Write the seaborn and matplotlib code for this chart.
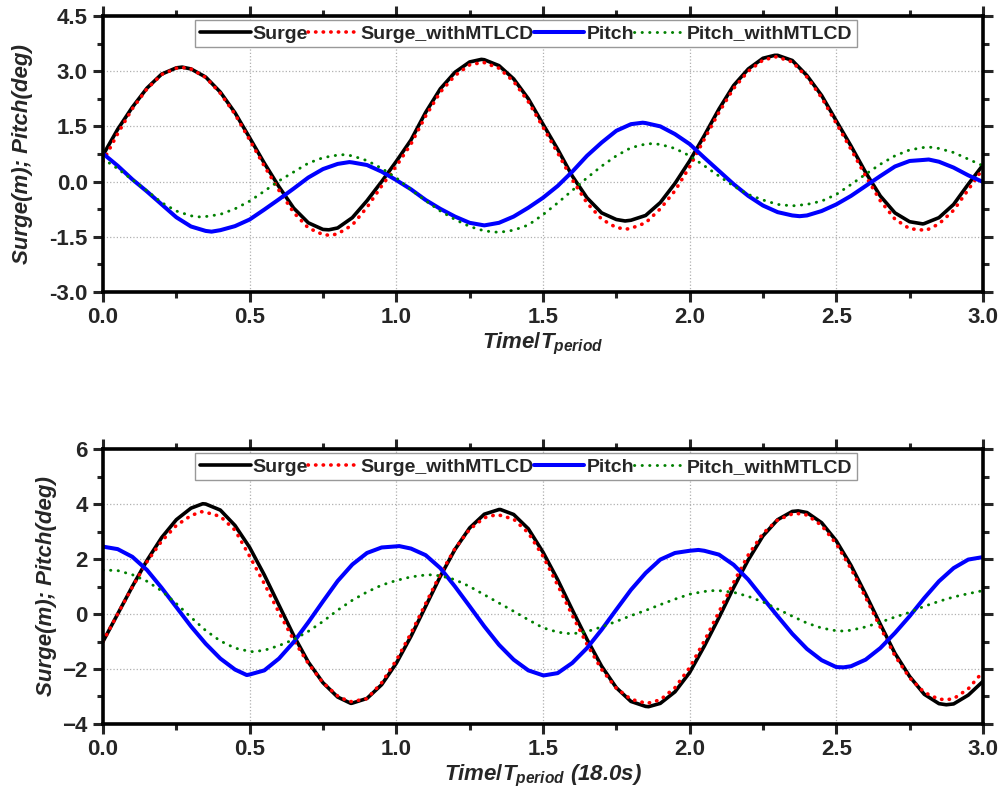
import matplotlib
matplotlib.use("Agg")
import matplotlib.pyplot as plt
import seaborn as sns
from matplotlib.ticker import MultipleLocator, FormatStrFormatter

# time axis, in units of the period
time = [0.00, 0.05, 0.10, 0.15, 0.20, 0.25, 0.30, 0.35, 0.40, 0.45,
        0.50, 0.55, 0.60, 0.65, 0.70, 0.75, 0.80, 0.85, 0.90, 0.95,
        1.00, 1.05, 1.10, 1.15, 1.20, 1.25, 1.30, 1.35, 1.40, 1.45,
        1.50, 1.55, 1.60, 1.65, 1.70, 1.75, 1.80, 1.85, 1.90, 1.95,
        2.00, 2.05, 2.10, 2.15, 2.20, 2.25, 2.30, 2.35, 2.40, 2.45,
        2.50, 2.55, 2.60, 2.65, 2.70, 2.75, 2.80, 2.85, 2.90, 2.95,
        3.00]

# upper panel
surge_a = [0.72, 1.42, 2.02, 2.54, 2.92, 3.09, 3.06, 2.84, 2.43, 1.87,
           1.19, 0.50, -0.14, -0.72, -1.12, -1.30, -1.26, -0.98, -0.52, 0.00,
           0.55, 1.13, 1.88, 2.52, 2.97, 3.25, 3.31, 3.15, 2.79, 2.25,
           1.56, 0.88, 0.15, -0.44, -0.85, -1.03, -1.05, -0.92, -0.57, -0.05,
           0.56, 1.25, 1.97, 2.61, 3.06, 3.35, 3.43, 3.29, 2.88, 2.34,
           1.65, 0.97, 0.25, -0.39, -0.85, -1.09, -1.14, -0.98, -0.62, -0.07,
           0.45]
surge_mtlcd_a = [0.55, 1.30, 1.98, 2.52, 2.91, 3.08, 3.06, 2.83, 2.40, 1.83,
                 1.13, 0.42, -0.24, -0.84, -1.26, -1.44, -1.42, -1.18, -0.70, -0.12,
                 0.42, 1.02, 1.78, 2.43, 2.88, 3.17, 3.23, 3.08, 2.72, 2.17,
                 1.48, 0.78, 0.05, -0.58, -1.02, -1.25, -1.27, -1.12, -0.74, -0.25,
                 0.40, 1.15, 1.88, 2.53, 3.00, 3.30, 3.38, 3.25, 2.84, 2.28,
                 1.58, 0.88, 0.15, -0.52, -1.02, -1.28, -1.32, -1.15, -0.78, -0.22,
                 0.35]
pitch_a = [0.76, 0.43, 0.06, -0.27, -0.62, -0.97, -1.22, -1.34, -1.32, -1.21,
           -1.03, -0.76, -0.48, -0.19, 0.11, 0.34, 0.48, 0.52, 0.45, 0.27,
           0.04, -0.21, -0.50, -0.74, -0.95, -1.12, -1.19, -1.12, -0.95, -0.71,
           -0.44, -0.12, 0.27, 0.70, 1.06, 1.38, 1.56, 1.59, 1.50, 1.29,
           1.02, 0.65, 0.29, -0.07, -0.39, -0.65, -0.83, -0.92, -0.92, -0.80,
           -0.62, -0.39, -0.12, 0.15, 0.41, 0.56, 0.59, 0.54, 0.38, 0.17,
           -0.01]
pitch_mtlcd_a = [0.62, 0.35, 0.05, -0.25, -0.57, -0.80, -0.93, -0.95, -0.89, -0.74,
                 -0.53, -0.26, 0.02, 0.26, 0.50, 0.65, 0.72, 0.70, 0.57, 0.36,
                 0.10, -0.22, -0.52, -0.80, -1.03, -1.22, -1.34, -1.38, -1.32, -1.18,
                 -0.90, -0.58, -0.24, 0.10, 0.42, 0.70, 0.92, 1.02, 1.01, 0.90,
                 0.70, 0.43, 0.15, -0.12, -0.35, -0.50, -0.62, -0.66, -0.62, -0.53,
                 -0.35, -0.08, 0.20, 0.47, 0.70, 0.86, 0.93, 0.90, 0.79, 0.61,
                 0.43]

# peaks and troughs read between the grid points (time, value)
surge_a_ext_t = [0.27, 0.77, 1.29, 1.78, 2.29, 2.795]
surge_a_ext_v = [3.11, -1.31, 3.32, -1.07, 3.43, -1.15]
surge_mtlcd_a_ext_t = [0.27, 0.775, 1.295, 1.785, 2.295, 2.805]
surge_mtlcd_a_ext_v = [3.10, -1.46, 3.24, -1.29, 3.39, -1.33]
pitch_a_ext_t = [0.37, 0.84, 1.84, 2.375, 2.815]
pitch_a_ext_v = [-1.36, 0.53, 1.60, -0.94, 0.60]
pitch_mtlcd_a_ext_t = [0.33, 0.82, 1.87, 2.35, 2.815]
pitch_mtlcd_a_ext_v = [-0.96, 0.73, 1.03, -0.66, 0.94]

# lower panel
surge_b = [-1.00, 0.00, 1.00, 1.95, 2.78, 3.43, 3.85, 4.00, 3.78, 3.22,
           2.42, 1.42, 0.32, -0.78, -1.75, -2.50, -3.02, -3.24, -3.07, -2.57,
           -1.79, -0.81, 0.28, 1.37, 2.35, 3.13, 3.63, 3.80, 3.62, 3.10,
           2.25, 1.25, 0.15, -0.92, -1.90, -2.68, -3.18, -3.36, -3.25, -2.83,
           -2.13, -1.17, -0.13, 0.96, 1.97, 2.84, 3.43, 3.73, 3.69, 3.32,
           2.66, 1.77, 0.72, -0.37, -1.43, -2.27, -2.92, -3.26, -3.27, -2.95,
           -2.45]
surge_mtlcd_b = [-1.00, 0.00, 0.98, 1.90, 2.65, 3.22, 3.58, 3.70, 3.55, 3.05,
                 2.10, 1.10, 0.05, -0.95, -1.80, -2.50, -2.98, -3.18, -3.08, -2.50,
                 -1.68, -0.70, 0.38, 1.45, 2.38, 3.08, 3.50, 3.60, 3.45, 2.95,
                 2.10, 1.05, -0.05, -1.10, -2.02, -2.70, -3.10, -3.24, -3.12, -2.68,
                 -1.95, -0.98, 0.08, 1.15, 2.15, 2.93, 3.42, 3.64, 3.60, 3.22,
                 2.55, 1.65, 0.60, -0.48, -1.52, -2.32, -2.85, -3.10, -3.08, -2.72,
                 -2.10]
pitch_b = [2.45, 2.36, 2.08, 1.60, 0.95, 0.25, -0.45, -1.08, -1.62, -2.02,
           -2.20, -2.05, -1.62, -1.02, -0.30, 0.46, 1.20, 1.80, 2.22, 2.42,
           2.46, 2.38, 2.14, 1.67, 1.00, 0.28, -0.45, -1.12, -1.66, -2.05,
           -2.23, -2.15, -1.78, -1.24, -0.57, 0.16, 0.88, 1.49, 1.98, 2.22,
           2.30, 2.30, 2.16, 1.79, 1.25, 0.58, -0.08, -0.72, -1.27, -1.68,
           -1.93, -1.90, -1.66, -1.24, -0.69, -0.08, 0.58, 1.19, 1.67, 1.98,
           2.07]
pitch_mtlcd_b = [1.60, 1.58, 1.43, 1.19, 0.84, 0.38, -0.12, -0.60, -0.98, -1.24,
                 -1.36, -1.32, -1.15, -0.93, -0.63, -0.27, 0.14, 0.50, 0.80, 1.05,
                 1.22, 1.35, 1.42, 1.39, 1.25, 1.00, 0.70, 0.40, 0.10, -0.21,
                 -0.50, -0.66, -0.72, -0.64, -0.47, -0.27, -0.06, 0.13, 0.34, 0.54,
                 0.72, 0.82, 0.85, 0.79, 0.64, 0.44, 0.18, -0.08, -0.33, -0.51,
                 -0.61, -0.59, -0.47, -0.30, -0.11, 0.06, 0.28, 0.46, 0.62, 0.74,
                 0.85]

surge_b_ext_t = [0.34, 0.845, 1.355, 1.86, 2.37, 2.875]
surge_b_ext_v = [4.01, -3.25, 3.80, -3.37, 3.75, -3.30]
surge_mtlcd_b_ext_t = [0.335, 0.84, 1.34, 1.855, 2.365, 2.88]
surge_mtlcd_b_ext_v = [3.72, -3.19, 3.61, -3.25, 3.66, -3.11]
pitch_b_ext_t = [0.49, 1.01, 1.505, 2.03, 2.525]
pitch_b_ext_v = [-2.22, 2.47, -2.23, 2.33, -1.94]
pitch_mtlcd_b_ext_t = [0.51, 1.11, 1.595, 2.09, 2.525]
pitch_mtlcd_b_ext_v = [-1.37, 1.43, -0.72, 0.86, -0.62]

labels = ["Surge", "Surge_withMTLCD", "Pitch", "Pitch_withMTLCD"]

sns.set_style("ticks")
plt.rcParams["font.family"] = ["Liberation Sans", "DejaVu Sans"]
plt.rcParams["font.weight"] = "bold"
plt.rcParams["mathtext.fontset"] = "custom"
plt.rcParams["mathtext.it"] = "Liberation Sans:italic:bold"
plt.rcParams["mathtext.rm"] = "Liberation Sans:bold"

fig = plt.figure(figsize=(10.03, 7.97), dpi=100)
ax1 = fig.add_axes([0.1027, 0.6336, 0.8773, 0.3464])
ax2 = fig.add_axes([0.1027, 0.0916, 0.8773, 0.3450])


def draw(ax, series):
    styles = [
        dict(color="black", lw=2.6, dots=None),
        dict(color="red", lw=2.6, dots=(0.1, 2.0)),
        dict(color="blue", lw=2.9, dots=None),
        dict(color="green", lw=2.1, dots=(0.1, 2.5)),
    ]
    for (y, ext_t, ext_v), lab, st in zip(series, labels, styles):
        # seaborn sorts by x, so the extra points fall into place
        sns.lineplot(x=time + ext_t, y=y + ext_v, ax=ax, color=st["color"],
                     lw=st["lw"], label=lab, estimator=None)
        line = ax.lines[-1]
        line.set_solid_joinstyle("round")
        if st["dots"] is not None:
            line.set_dashes(st["dots"])
            line.set_dash_capstyle("round")

    ax.set_xlim(0, 3)
    ax.xaxis.set_major_locator(MultipleLocator(0.5))
    ax.xaxis.set_minor_locator(MultipleLocator(0.25))
    ax.xaxis.set_major_formatter(FormatStrFormatter("%.1f"))
    ax.grid(True, which="major", linestyle=":", color="#b0b0b0", lw=0.9)
    for sp in ax.spines.values():
        sp.set_linewidth(2.6)
        sp.set_color("black")
    ax.tick_params(which="both", direction="out", top=True, right=True,
                   width=2.2, labelsize=16, pad=4)
    ax.tick_params(which="major", length=7)
    ax.tick_params(which="minor", length=4)
    ax.tick_params(top=True, right=True, labeltop=False, labelright=False)
    ax.set_ylabel("Surge(m); Pitch(deg)", fontsize=16, fontstyle="italic",
                  fontweight="bold")
    leg = ax.legend(loc="upper left", bbox_to_anchor=(0.105, 0.985), ncol=4,
                    fontsize=14, frameon=True, fancybox=False, framealpha=1,
                    edgecolor="#999999", handlelength=2.6, handletextpad=0.1,
                    columnspacing=0.0, borderpad=0.25, borderaxespad=0.0)
    leg.get_frame().set_linewidth(1.0)


draw(ax1, [(surge_a, surge_a_ext_t, surge_a_ext_v),
           (surge_mtlcd_a, surge_mtlcd_a_ext_t, surge_mtlcd_a_ext_v),
           (pitch_a, pitch_a_ext_t, pitch_a_ext_v),
           (pitch_mtlcd_a, pitch_mtlcd_a_ext_t, pitch_mtlcd_a_ext_v)])
ax1.set_ylim(-3.0, 4.5)
ax1.yaxis.set_major_locator(MultipleLocator(1.5))
ax1.yaxis.set_minor_locator(MultipleLocator(0.75))
ax1.yaxis.set_major_formatter(FormatStrFormatter("%.1f"))
ax1.set_xlabel(r"$Time/T_{period}$", fontsize=16, labelpad=2)
ax1.yaxis.set_label_coords(-0.079, 0.5)

draw(ax2, [(surge_b, surge_b_ext_t, surge_b_ext_v),
           (surge_mtlcd_b, surge_mtlcd_b_ext_t, surge_mtlcd_b_ext_v),
           (pitch_b, pitch_b_ext_t, pitch_b_ext_v),
           (pitch_mtlcd_b, pitch_mtlcd_b_ext_t, pitch_mtlcd_b_ext_v)])
ax2.set_ylim(-4, 6)
ax2.yaxis.set_major_locator(MultipleLocator(2))
ax2.yaxis.set_minor_locator(MultipleLocator(1))
ax2.set_xlabel(r"$Time/T_{period}$ (18.0s)", fontsize=16, fontstyle="italic",
               fontweight="bold", labelpad=2)

fig.savefig("out.png", dpi=100)
